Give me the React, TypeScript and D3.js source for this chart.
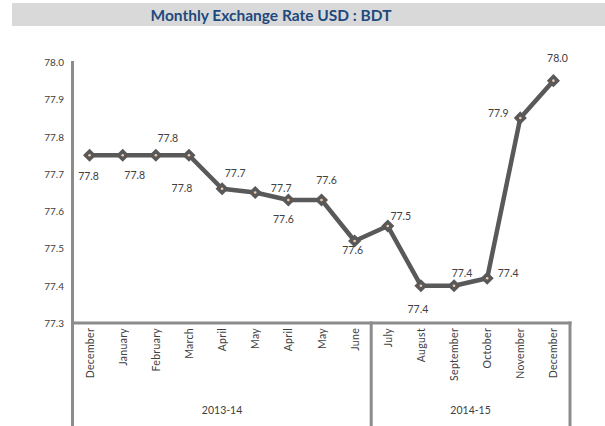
import * as d3 from "d3";

const months = [
  "December", "January", "February", "March", "April", "May", "April", "May",
  "June", "July", "August", "September", "October", "November", "December",
];
const rates = [
  77.75, 77.75, 77.75, 77.75, 77.66, 77.65, 77.63, 77.63,
  77.52, 77.56, 77.4, 77.4, 77.42, 77.85, 77.95,
];
const rateLabels = [
  "77.8", "77.8", "77.8", "77.8", "77.7", "77.7", "77.6", "77.6",
  "77.6", "77.5", "77.4", "77.4", "77.4", "77.9", "78.0",
];
const fiscalYears = ["2013-14", "2014-15"];
const fiscalYearMonths = [9, 6];

// hand placed data labels, like in the original sheet
const labelOffsets = [
  [-1, 21], [12, 20], [12, -17], [-7, 33], [13, -16], [26, -5], [-5, 19], [5, -20],
  [-2, 9], [13, -10], [-3, 23], [8, -13], [21, -5], [-22, -5], [4, -23],
];

const W = 605;
const H = 426;
const left = 73;
const right = 570;
const top = 62;
const bottom = 323;
const font = "Lato, 'Open Sans', sans-serif";

export default function App() {
  const x = d3.scaleBand<number>().domain(d3.range(months.length)).range([left, right]);
  const y = d3.scaleLinear().domain([77.3, 78.0]).range([bottom, top]);
  const cx = (i: number) => x(i)! + x.bandwidth() / 2;

  const line = d3
    .line<number>()
    .x((_, i) => cx(i))
    .y((d) => y(d));

  const ticks = y.ticks(7);
  const fmt = d3.format(".1f");

  // group boundaries
  let start = 0;
  const groups = fiscalYears.map((name, k) => {
    const from = start;
    const to = start + fiscalYearMonths[k];
    start = to;
    return { name, x0: x(from)!, x1: to >= months.length ? right : x(to)! };
  });

  const axisColor = "#8c8c8c";
  const lineColor = "#595959";

  return (
    <div style={{ position: "absolute", left: 0, top: 0 }}>
      <svg width={W} height={H} style={{ display: "block", background: "#fff" }}>
        <rect x={12} y={3} width={W - 12} height={23} fill="#d9d9d9" />
        <text
          x={271}
          y={15}
          textAnchor="middle"
          dominantBaseline="central"
          fontFamily={font}
          fontWeight="bold"
          fontSize={15.5}
          fill="#1f497d"
        >
          Monthly Exchange Rate USD : BDT
        </text>

        {ticks.map((t) => (
          <text
            key={t}
            x={64}
            y={y(t)}
            textAnchor="end"
            dominantBaseline="central"
            fontFamily={font}
            fontSize={10}
            fill="#404040"
          >
            {fmt(t)}
          </text>
        ))}

        <line x1={left - 0.5} x2={left - 0.5} y1={top - 1} y2={H} stroke={axisColor} strokeWidth={3} />
        <line x1={left} x2={right + 1.5} y1={bottom} y2={bottom} stroke={axisColor} strokeWidth={3} />
        {groups.map((g) => (
          <g key={g.name}>
            <line x1={g.x1} x2={g.x1} y1={bottom - 1.5} y2={H} stroke={axisColor} strokeWidth={3} />
            <text
              x={(g.x0 + g.x1) / 2}
              y={410}
              textAnchor="middle"
              dominantBaseline="central"
              fontFamily={font}
              fontSize={10.5}
              fill="#404040"
            >
              {g.name}
            </text>
          </g>
        ))}

        {months.map((m, i) => (
          <text
            key={i}
            transform={`translate(${cx(i)},${bottom + 5}) rotate(-90)`}
            textAnchor="end"
            dominantBaseline="central"
            fontFamily={font}
            fontSize={10.5}
            letterSpacing={0.3}
            fill="#404040"
          >
            {m}
          </text>
        ))}

        <path
          d={line(rates)!}
          fill="none"
          stroke={lineColor}
          strokeWidth={4.5}
          strokeLinejoin="round"
        />
        {rates.map((r, i) => (
          <g key={i} transform={`translate(${cx(i)},${y(r)})`}>
            <path d="M0,-5.5L5.5,0L0,5.5L-5.5,0Z" fill={lineColor} stroke={lineColor} strokeWidth={1.5} />
            <circle r={1.3} fill="#f8cbad" />
          </g>
        ))}
        {rates.map((r, i) => (
          <text
            key={i}
            x={cx(i) + labelOffsets[i][0]}
            y={y(r) + labelOffsets[i][1]}
            textAnchor="middle"
            dominantBaseline="central"
            fontFamily={font}
            fontSize={10.5}
            fill="#404040"
          >
            {rateLabels[i]}
          </text>
        ))}
      </svg>
    </div>
  );
}
